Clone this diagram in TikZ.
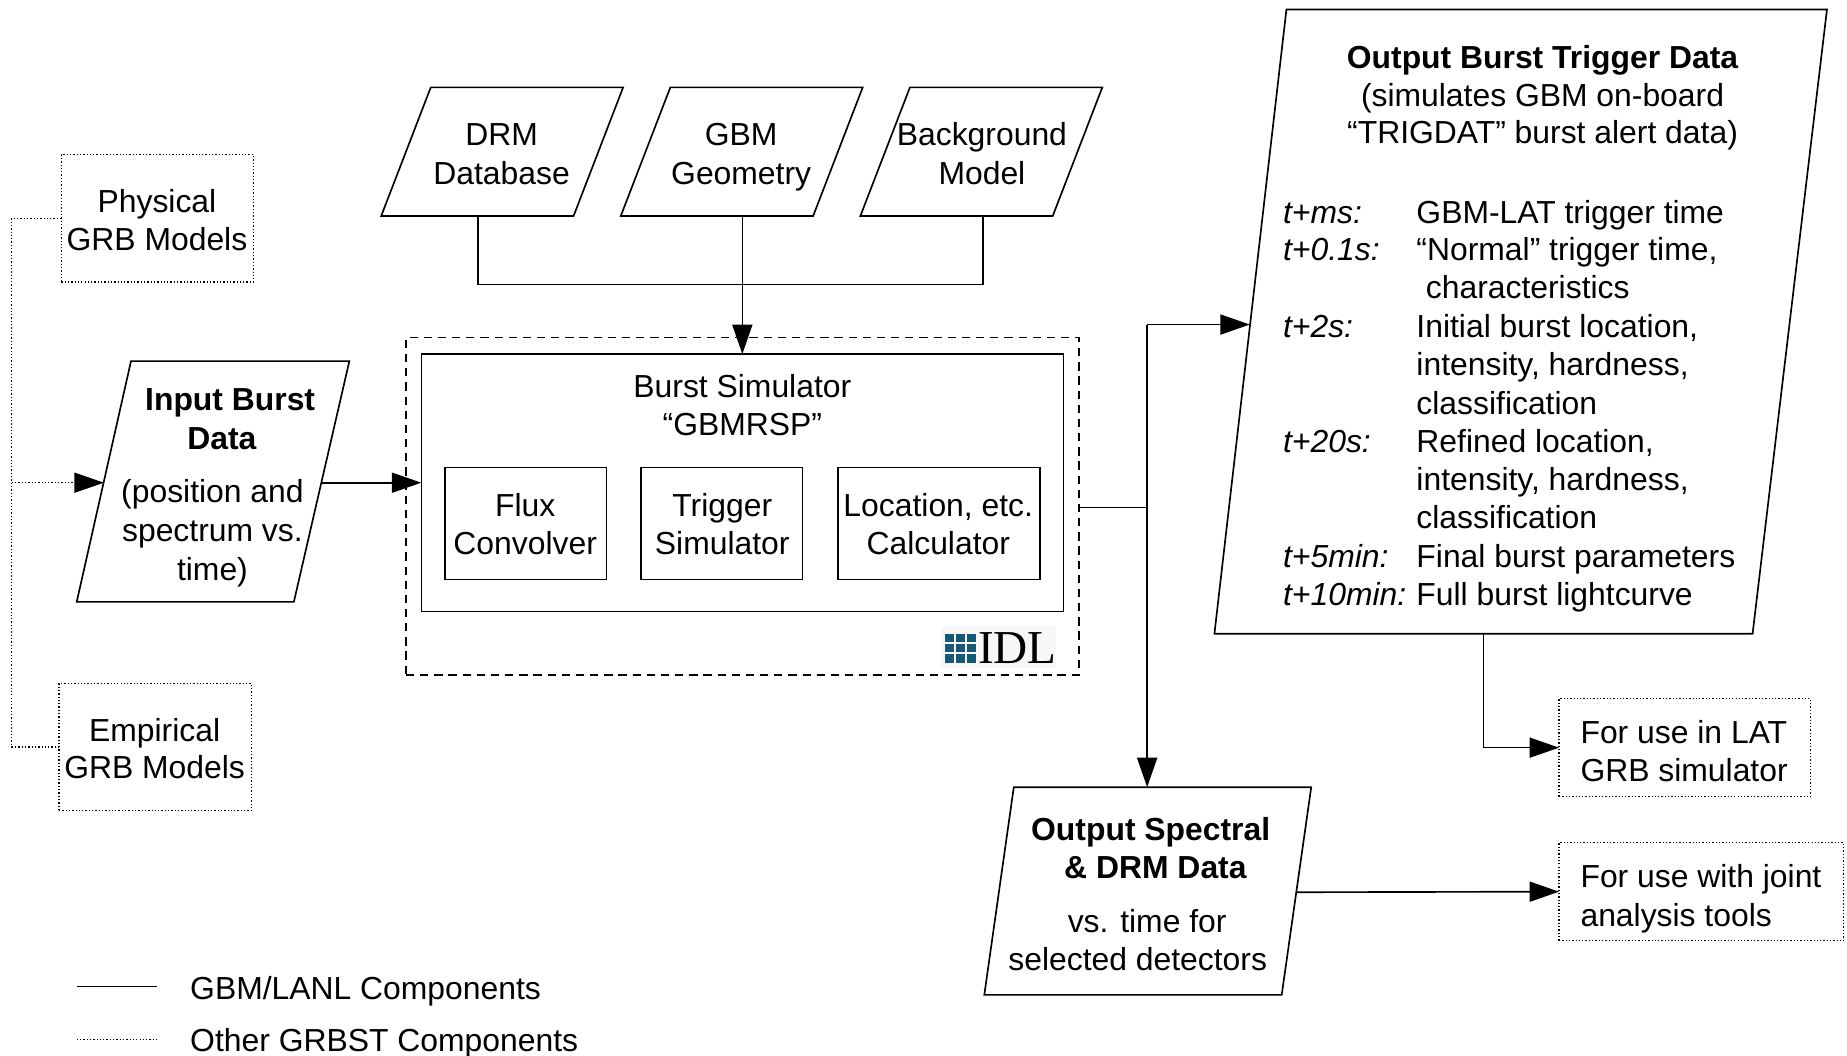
\documentclass[tikz,border=0pt]{standalone}
\usepackage{fontspec}
\setmainfont{Liberation Sans}
\newfontfamily\idlserif{Liberation Serif}
\usetikzlibrary{arrows.meta}
\newcommand\dfont{\fontsize{27}{32}\selectfont}
\definecolor{idlblue}{RGB}{22,88,120}
\begin{document}
\begin{tikzpicture}[x=1pt,y=-1pt,
  ln/.style={line width=1.4pt, line join=miter},
  dotln/.style={line width=1.1pt, dash pattern=on 1.1pt off 1.7pt},
  dashln/.style={line width=1.4pt, dash pattern=on 7pt off 5pt},
  arr/.style={-{Triangle[length=25pt,width=17pt]}},
  box/.style={rectangle, inner sep=0pt, outer sep=0pt},
  lbl/.style={anchor=base, inner sep=0pt, font=\dfont},
  lblw/.style={anchor=base west, inner sep=0pt, font=\dfont},
  bld/.style={lbl, font=\dfont\bfseries},
  itl/.style={lblw, font=\dfont\itshape}]
\useasboundingbox (0,0) rectangle (1565,894);

% ---------- boxes ----------
\node[box, dotln, draw, minimum width=163pt, minimum height=108pt] (phys) at (133.5,185) {};
\node[box, dotln, draw, minimum width=163pt, minimum height=108pt] (emp) at (131.5,633) {};
\node[box, dashln, draw, minimum width=570pt, minimum height=286pt] (outer) at (629,429) {};
\node[box, ln, draw, minimum width=544pt, minimum height=218pt] (inner) at (629,409) {};
\node[box, ln, draw, minimum width=137pt, minimum height=95pt] (flux) at (445.5,443.5) {};
\node[box, ln, draw, minimum width=137pt, minimum height=95pt] (trig) at (611.5,443.5) {};
\node[box, ln, draw, minimum width=171pt, minimum height=95pt] (loc) at (795.5,443.5) {};
\node[box, dotln, draw, minimum width=213pt, minimum height=83pt] (lat) at (1427.5,633.5) {};
\node[box, dotln, draw, minimum width=241pt, minimum height=83pt] (joint) at (1441.5,755.5) {};

% ---------- parallelograms ----------
\draw[ln] (111,306) -- (296,306) -- (249,510) -- (65,510) -- cycle;
\draw[ln] (365,74) -- (528,74) -- (486,183) -- (323,183) -- cycle;
\draw[ln] (568,74) -- (731,74) -- (689,183) -- (526,183) -- cycle;
\draw[ln] (771,74) -- (934,74) -- (892,183) -- (729,183) -- cycle;
\draw[ln] (1090,8) -- (1548,8) -- (1485,537) -- (1029,537) -- cycle;
\draw[ln] (859,667) -- (1111,667) -- (1086,843) -- (834,843) -- cycle;

% ---------- IDL logo ----------
\fill[gray!6] (797,530) rectangle (895,566);
\foreach \i in {0,1,2} \foreach \j in {0,1,2}
  \fill[idlblue] (801+9.3*\i,537+8.6*\j) rectangle ++(7.6,7.2);
\node[anchor=base west, inner sep=0pt, font=\fontsize{40}{40}\selectfont\idlserif] (idl) at (828.5,562) {IDL};

% ---------- texts ----------
\node[lbl] (t1) at (133,180) {Physical};
\node[lbl] (t2) at (133,212) {GRB Models};
\node[lbl] (t3) at (131,628) {Empirical};
\node[lbl] (t4) at (131,660) {GRB Models};
\node[bld] (t5) at (195,348) {Input Burst};
\node[bld] (t6) at (188,381) {Data};
\node[lbl] (t7) at (180,426) {(position and};
\node[lbl] (t8) at (180,459) {spectrum vs.};
\node[lbl] (t9) at (180,492) {time)};
\node[lbl] (t10) at (425,123) {DRM};
\node[lbl] (t11) at (425,156) {Database};
\node[lbl] (t12) at (628,123) {GBM};
\node[lbl] (t13) at (628,156) {Geometry};
\node[lbl] (t14) at (832,123) {Background};
\node[lbl] (t15) at (832,156) {Model};
\node[lbl] (t16) at (629,337) {Burst Simulator};
\node[lbl] (t17) at (629,369) {“GBMRSP”};
\node[lbl] (t18) at (445,438) {Flux};
\node[lbl] (t19) at (445,470) {Convolver};
\node[lbl] (t20) at (612,438) {Trigger};
\node[lbl] (t21) at (612,470) {Simulator};
\node[lbl] (t22) at (795,438) {Location, etc.};
\node[lbl] (t23) at (795,470) {Calculator};
\node[bld] (t24) at (1307,58) {Output Burst Trigger Data};
\node[lbl] (t25) at (1307,90) {(simulates GBM on-board};
\node[lbl] (t26) at (1307,122) {“TRIGDAT” burst alert data)};
\node[itl] (k1) at (1087,189) {t+ms:};
\node[itl] (k2) at (1087,221) {t+0.1s:};
\node[itl] (k3) at (1087,286) {t+2s:};
\node[itl] (k4) at (1087,383) {t+20s:};
\node[itl] (k5) at (1087,481) {t+5min:};
\node[itl] (k6) at (1087,513) {t+10min:};
\node[lblw] (v1) at (1200,189) {GBM-LAT trigger time};
\node[lblw] (v2) at (1200,221) {“Normal” trigger time,};
\node[lblw] (v3) at (1208,253) {characteristics};
\node[lblw] (v4) at (1200,286) {Initial burst location,};
\node[lblw] (v5) at (1200,318) {intensity, hardness,};
\node[lblw] (v6) at (1200,351) {classification};
\node[lblw] (v7) at (1200,383) {Refined location,};
\node[lblw] (v8) at (1200,416) {intensity, hardness,};
\node[lblw] (v9) at (1200,448) {classification};
\node[lblw] (v10) at (1200,481) {Final burst parameters};
\node[lblw] (v11) at (1200,513) {Full burst lightcurve};
\node[bld] (t27) at (975,712) {Output Spectral};
\node[bld] (t28) at (979,744) {\& DRM Data};
\node[lbl] (t29) at (972,790) {vs. time for};
\node[lbl] (t30) at (964,822) {selected detectors};
\node[lblw] (t31) at (1339,630) {For use in LAT};
\node[lblw] (t32) at (1339,662) {GRB simulator};
\node[lblw] (t33) at (1339,752) {For use with joint};
\node[lblw] (t34) at (1339,785) {analysis tools};
\node[lblw] (t35) at (161,847) {GBM/LANL Components};
\node[lblw] (t36) at (161,891) {Other GRBST Components};

% ---------- connection points ----------
\coordinate (drmB) at (405,183);
\coordinate (gbmB) at (629,183);
\coordinate (bgB) at (833,183);
\coordinate (jn) at (629,241);
\coordinate (inpL) at (88,409);
\coordinate (inpR) at (272.5,409);
\coordinate (lx) at (10,409);
\coordinate (lxb) at (10,633);
\coordinate (jR) at (972,430);
\coordinate (jT) at (972,275);
\coordinate (specT) at (972,667);
\coordinate (trgL) at (1059,275);
\coordinate (trgB) at (1257,537);
\coordinate (specR) at (1098,756);
\coordinate (lg1a) at (65,836);
\coordinate (lg1b) at (133,836);
\coordinate (lg2a) at (65,881);
\coordinate (lg2b) at (133,881);

% ---------- connectors ----------
\draw[ln] (drmB) |- (jn) -| (bgB);
\draw[ln, arr] (gbmB) -- (inner.north);
\draw[ln, arr] (inpR) -- (inner.west);
\draw[dotln] (phys.west) -| (lxb) -- (emp.west);
\draw[dotln, arr] (lx) -- (inpL);
\draw[ln] (outer.east |- jR) -- (jR);
\draw[ln, arr] (jT) -- (specT);
\draw[ln, arr] (jT) -- (trgL);
\draw[ln, arr] (trgB) |- (lat.west);
\draw[ln, arr] (specR) -- (joint.west);
\draw[ln] (lg1a) -- (lg1b);
\draw[dotln] (lg2a) -- (lg2b);
\end{tikzpicture}
\end{document}
